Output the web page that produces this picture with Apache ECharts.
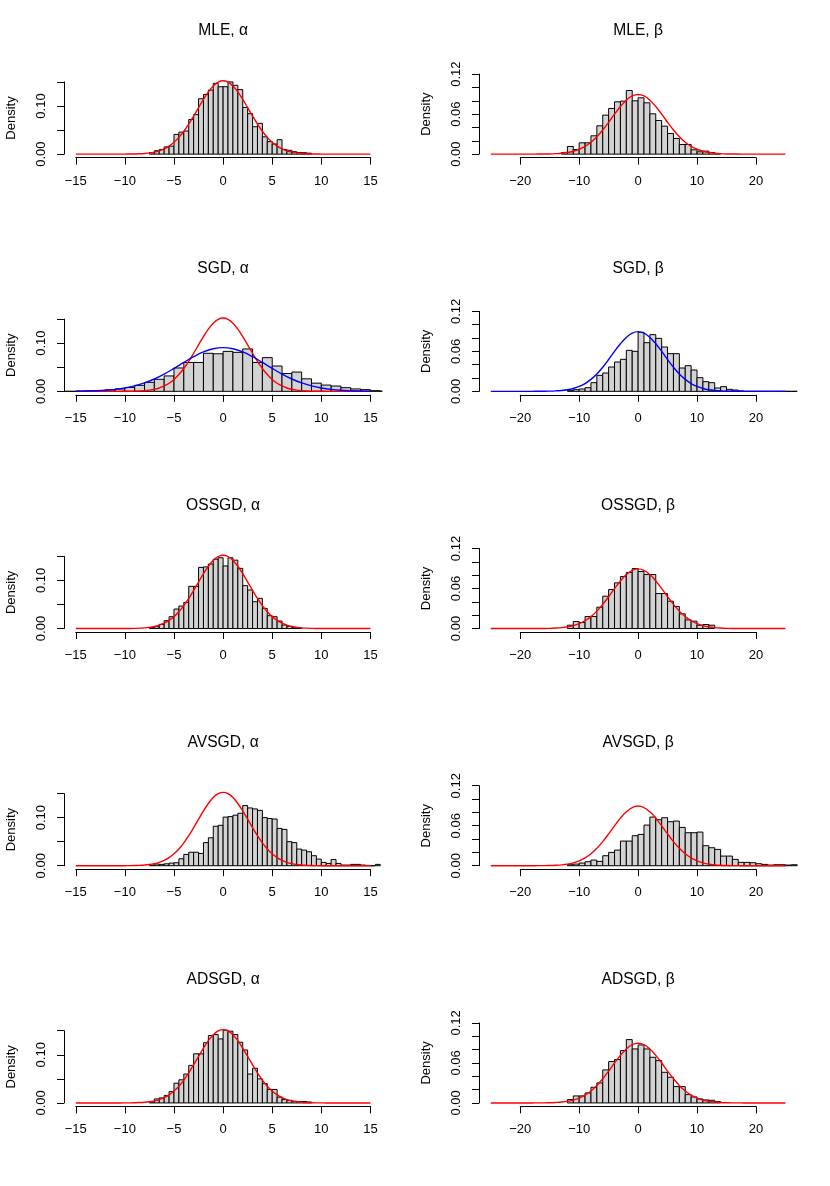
<!DOCTYPE html>
<html><head><meta charset="utf-8">
<script src="https://cdn.jsdelivr.net/npm/echarts@6/dist/echarts.min.js"></script>
<style>html,body{margin:0;padding:0;background:#fff}#c{width:830px;height:1186px}</style>
</head><body><div id="c"></div>
<script>
// ---------- titles ----------
const panelTitles = ['MLE, α','MLE, β','SGD, α','SGD, β','OSSGD, α','OSSGD, β','AVSGD, α','AVSGD, β','ADSGD, α','ADSGD, β'];

// ---------- histogram densities (first break, bin width, heights) ----------
const binStarts = [-7.5, -13, -17, -12, -7.5, -12, -7.5, -12, -7.5, -12];
const binWidths = [0.5, 1, 1, 1, 0.5, 1, 0.5, 1, 0.5, 1];

const mleAlpha = [0.003,0.007,0.0097,0.015,0.0166,0.041,0.0457,0.048,0.072,0.082,0.115,0.124,0.133,0.147,0.140,0.140,0.150,0.143,0.134,0.097,0.084,0.057,0.064,0.036,0.026,0.021,0.030,0.0097,0.008,0.005,0.0035,0.003,0.002];
const mleBeta = [0.0025,0.0115,0.007,0.017,0.017,0.0275,0.0425,0.0585,0.0685,0.0785,0.0795,0.0955,0.080,0.0845,0.077,0.0605,0.0505,0.042,0.031,0.0235,0.0145,0.0145,0.0065,0.0035,0.0045,0.0025,0.001];
const sgdAlpha = [0,0,0.0005,0.001,0.0015,0.003,0.005,0.008,0.0125,0.0187,0.025,0.032,0.0485,0.060,0.060,0.079,0.078,0.083,0.081,0.088,0.060,0.070,0.0526,0.037,0.040,0.026,0.017,0.013,0.011,0.0076,0.005,0.0035,0.0014,0.0005];
const sgdBeta = [0.001,0.0025,0.0035,0.0055,0.013,0.024,0.0275,0.0365,0.044,0.048,0.0615,0.060,0.0885,0.073,0.085,0.0795,0.0665,0.0565,0.0565,0.035,0.0385,0.032,0.0205,0.0145,0.013,0.005,0.007,0.003,0.002,0.0005,0,0,0,0,0,0,0,0,0,0,0];
const ossgdAlpha = [0.0017,0.0038,0.0087,0.0163,0.0246,0.0405,0.0467,0.0543,0.0876,0.0876,0.127,0.128,0.134,0.144,0.147,0.130,0.147,0.142,0.125,0.089,0.080,0.0557,0.0627,0.0419,0.0267,0.0246,0.0156,0.0073,0.0045,0.0024,0.001];
const ossgdBeta = [0.005,0.0105,0.009,0.018,0.018,0.032,0.0485,0.0585,0.0685,0.078,0.084,0.090,0.0855,0.081,0.081,0.0525,0.0525,0.041,0.033,0.022,0.013,0.011,0.005,0.006,0.005];
const avsgdAlpha = [0.0014,0.0035,0.0028,0.004,0.0055,0.0062,0.0145,0.0235,0.028,0.028,0.0256,0.048,0.058,0.082,0.084,0.101,0.102,0.105,0.109,0.125,0.120,0.118,0.115,0.100,0.098,0.097,0.0775,0.0755,0.050,0.048,0.0346,0.0325,0.029,0.0208,0.0138,0.0069,0.0048,0.013,0.0048,0.0014,0.0014,0.0028,0.0028,0.0014,0.0007,0,0.0028];
const avsgdBeta = [0.0015,0.0025,0.004,0.006,0.0085,0.0065,0.015,0.020,0.0235,0.037,0.037,0.045,0.047,0.061,0.073,0.069,0.072,0.066,0.067,0.0575,0.0495,0.0495,0.0505,0.030,0.027,0.0245,0.0145,0.0145,0.0095,0.005,0.005,0.0045,0.003,0.002,0.001,0.0015,0.0015,0.001,0.0015];
const adsgdAlpha = [0.002,0.0083,0.0104,0.0153,0.0236,0.041,0.048,0.060,0.078,0.102,0.102,0.125,0.140,0.142,0.133,0.151,0.149,0.142,0.126,0.110,0.060,0.072,0.050,0.040,0.028,0.028,0.012,0.007,0.0055,0.0035,0.003,0.003,0.002];
const adsgdBeta = [0.005,0.0105,0.0105,0.015,0.0235,0.030,0.0495,0.062,0.065,0.0785,0.095,0.081,0.087,0.081,0.0685,0.0635,0.046,0.0385,0.0245,0.0245,0.0125,0.009,0.006,0.0045,0.004,0.002];
const histograms = [mleAlpha, mleBeta, sgdAlpha, sgdBeta, ossgdAlpha, ossgdBeta, avsgdAlpha, avsgdBeta, adsgdAlpha, adsgdBeta];

// ---------- density curves (values read at fixed sample points) ----------
// alpha red curve: x = -15, -14.5, ..., 15
const alphaCurveStart = -15, alphaCurveStep = 0.5;
const alphaRed = [0,0,0,0,0,0,0,0,0,0,
  0.0001,0.0002,0.0004,0.0008,0.0014,0.0025,0.0043,0.0070,0.0111,0.0168,0.0247,0.0348,0.0475,0.0624,0.0791,0.0966,0.1138,0.1293,0.1416,0.1496,0.1523,
  0.1496,0.1416,0.1293,0.1138,0.0966,0.0791,0.0624,0.0475,0.0348,0.0247,0.0168,0.0111,0.0070,0.0043,0.0025,0.0014,0.0008,0.0004,0.0002,0.0001,
  0,0,0,0,0,0,0,0,0,0];
// beta curve: x = -25, -24, ..., 25
const betaCurveStart = -25, betaCurveStep = 1;
const betaCurve = [0,0,0,0,0,0,0,0,
  0.0001,0.0001,0.0003,0.0007,0.0013,0.0024,0.0043,0.0073,0.0117,0.0179,0.0261,0.0362,0.0477,0.0599,0.0714,0.0809,0.0873,0.0895,
  0.0873,0.0809,0.0714,0.0599,0.0477,0.0362,0.0261,0.0179,0.0117,0.0073,0.0043,0.0024,0.0013,0.0007,0.0003,0.0001,0.0001,
  0,0,0,0,0,0,0,0];
// SGD alpha blue curve: x = -15, -14, ..., 15
const blueCurveStart = -15, blueCurveStep = 1;
const sgdAlphaBlue = [0.0003,0.0006,0.0012,0.0022,0.0040,0.0069,0.0112,0.0174,0.0256,0.0358,0.0476,0.0600,0.0719,0.0818,0.0884,0.0907,
  0.0884,0.0818,0.0719,0.0600,0.0476,0.0358,0.0256,0.0174,0.0112,0.0069,0.0040,0.0022,0.0012,0.0006,0.0003];

// curves per panel
const panelCurves = [
  ['alphaRed'], ['betaRed'], ['alphaRed','alphaBlue'], ['betaBlue'], ['alphaRed'], ['betaRed'], ['alphaRed'], ['betaRed'], ['alphaRed'], ['betaRed']
];

// ---------- axes ----------
const alphaXTicks = [-15, 15], alphaXInterval = 5, alphaYTop = 0.15, alphaYInterval = 0.05, alphaYLabels = [0, 0.10];
const betaXTicks = [-20, 20], betaXInterval = 10, betaYTop = 0.12, betaYInterval = 0.02, betaYLabels = [0, 0.06, 0.12];

// ---------- layout ----------
const PW_ = 415, PH_ = 237.2, PL = 64, PT = 64, PWID = 318.2, PHGT = 93.6;
const FONT = '"Liberation Sans", Arial, Helvetica, sans-serif';
const usr = {
  alpha: {xmin: -16.2, xmax: 16.2, ymin: -0.0072, ymax: 0.1872},
  beta: {xmin: -27, xmax: 27, ymin: -0.0052, ymax: 0.1352}
};

function pts(start, step, ys){ return ys.map((y,k)=>[start + k*step, y]); }
const curveData = {
  alphaRed: {data: pts(alphaCurveStart, alphaCurveStep, alphaRed), color: '#ff0000'},
  alphaBlue: {data: pts(blueCurveStart, blueCurveStep, sgdAlphaBlue), color: '#0000ff'},
  betaRed: {data: pts(betaCurveStart, betaCurveStep, betaCurve), color: '#ff0000'},
  betaBlue: {data: pts(betaCurveStart, betaCurveStep, betaCurve), color: '#0000ff'}
};

function fmtMinus(v){ return String(v).replace('-', '\u2212'); }

function renderBar(params, api){
  const a = api.coord([api.value(0), api.value(2)]);
  const b = api.coord([api.value(1), 0]);
  const cs = params.coordSys;
  const shape = echarts.graphic.clipRectByRect(
    {x: a[0], y: a[1], width: b[0]-a[0], height: b[1]-a[1]},
    {x: cs.x, y: cs.y, width: cs.width, height: cs.height});
  if (!shape) return;
  return {type: 'rect', shape: shape, style: {fill: '#d3d3d3', stroke: '#000', lineWidth: 1}};
}

const grids = [], xAxes = [], yAxes = [], series = [], titles = [];
for (let i = 0; i < 10; i++) {
  const col = i % 2, row = Math.floor(i / 2);
  const ox = col * PW_, oy = row * PH_;
  const isAlpha = col === 0;
  const u = isAlpha ? usr.alpha : usr.beta;
  const px = v => ox + PL + (v - u.xmin) / (u.xmax - u.xmin) * PWID;
  const py = v => oy + PT + (u.ymax - v) / (u.ymax - u.ymin) * PHGT;
  const xt = isAlpha ? alphaXTicks : betaXTicks;
  const yTop = isAlpha ? alphaYTop : betaYTop;
  const yLabs = isAlpha ? alphaYLabels : betaYLabels;

  // data grid
  const gData = grids.length;
  grids.push({left: ox + PL, top: oy + PT, width: PWID, height: PHGT, containLabel: false});
  xAxes.push({gridIndex: gData, type: 'value', min: u.xmin, max: u.xmax, show: false});
  yAxes.push({gridIndex: gData, type: 'value', min: u.ymin, max: u.ymax, show: false});

  // axis grid
  const gAx = grids.length;
  grids.push({left: px(xt[0]), top: py(yTop), width: px(xt[1]) - px(xt[0]), height: py(0) - py(yTop), containLabel: false});
  xAxes.push({gridIndex: gAx, type: 'value', min: xt[0], max: xt[1], interval: isAlpha ? alphaXInterval : betaXInterval,
    offset: (oy + PT + PHGT) - py(0),
    axisLine: {show: true, onZero: false, lineStyle: {color: '#000', width: 1}},
    axisTick: {show: true, length: 7, lineStyle: {color: '#000', width: 1}},
    axisLabel: {show: true, margin: 17, color: '#000', fontSize: 13, fontFamily: FONT, formatter: v => fmtMinus(v)},
    splitLine: {show: false}});
  yAxes.push({gridIndex: gAx, type: 'value', min: 0, max: yTop, interval: isAlpha ? alphaYInterval : betaYInterval,
    offset: px(xt[0]) - (ox + PL), position: 'left',
    name: 'Density', nameLocation: 'middle', nameGap: 46, nameRotate: 90,
    nameTextStyle: {color: '#000', fontSize: 13, fontFamily: FONT},
    axisLine: {show: true, onZero: false, lineStyle: {color: '#000', width: 1}},
    axisTick: {show: true, length: 7, lineStyle: {color: '#000', width: 1}},
    axisLabel: {show: true, rotate: 90, margin: 16, color: '#000', fontSize: 13, fontFamily: FONT,
      formatter: v => yLabs.some(l => Math.abs(l - v) < 1e-9) ? v.toFixed(2) : ''},
    splitLine: {show: false}});

  // histogram
  const hs = histograms[i], st = binStarts[i], w = binWidths[i];
  series.push({type: 'custom', xAxisIndex: gData, yAxisIndex: gData, renderItem: renderBar,
    encode: {x: [0, 1], y: 2}, silent: true, z: 2,
    data: hs.map((h, k) => [st + k * w, st + (k + 1) * w, h])});
  // curves
  panelCurves[i].forEach(key => {
    const c = curveData[key];
    series.push({type: 'line', xAxisIndex: gData, yAxisIndex: gData, data: c.data, showSymbol: false, symbol: 'none',
      smooth: 0.4, silent: true, z: 3, clip: true, lineStyle: {color: c.color, width: 1.4}});
  });

  titles.push({text: panelTitles[i], left: ox + PL + PWID / 2, top: oy + 23, textAlign: 'center', padding: 0,
    textStyle: {fontSize: 15.6, fontWeight: 'normal', color: '#000', fontFamily: FONT}});
}

const chart = echarts.init(document.getElementById('c'), null, {renderer: 'canvas'});
chart.setOption({animation: false, backgroundColor: '#fff', title: titles, grid: grids, xAxis: xAxes, yAxis: yAxes, series: series});
</script></body></html>
